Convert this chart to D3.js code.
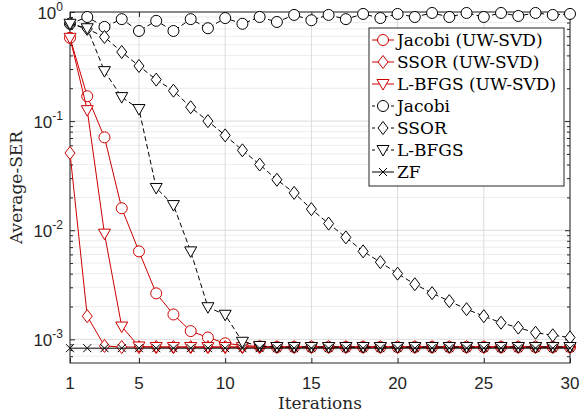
<!DOCTYPE html>
<html><head><meta charset="utf-8">
<script src="https://cdn.jsdelivr.net/npm/d3@7"></script>
<style>body{margin:0;background:#fff}svg{display:block}</style>
</head><body><svg id="c" width="580" height="418"></svg>
<script>
const iterations = [1,2,3,4,5,6,7,8,9,10,11,12,13,14,15,16,17,18,19,20,21,22,23,24,25,26,27,28,29,30];
const xTicks = [1,5,10,15,20,25,30];
const yTicks = [1,0.1,0.01,0.001];
const yTickExp = ["0","-1","-2","-3"];
const jacobiUW = [0.58,0.169,0.071,0.0159,0.0064,0.00264,0.00169,0.00119,0.00104,0.00092,0.00088,0.00086,0.00085,0.00085,0.00085,0.00085,0.00085,0.00085,0.00085,0.00085,0.00085,0.00085,0.00085,0.00085,0.00085,0.00085,0.00085,0.00085,0.00085,0.00085];
const ssorUW = [0.051,0.00163,0.00087,0.00085,0.00085,0.00085,0.00085,0.00085,0.00085,0.00085,0.00085,0.00085,0.00085,0.00085,0.00085,0.00085,0.00085,0.00085,0.00085,0.00085,0.00085,0.00085,0.00085,0.00085,0.00085,0.00085,0.00085,0.00085,0.00085,0.00085];
const lbfgsUW = [0.58,0.126,0.0093,0.00131,0.00086,0.00085,0.00085,0.00085,0.00085,0.00085,0.00085,0.00085,0.00085,0.00085,0.00085,0.00085,0.00085,0.00085,0.00085,0.00085,0.00085,0.00085,0.00085,0.00085,0.00085,0.00085,0.00085,0.00085,0.00085,0.00085];
const jacobi = [0.78,0.90,0.73,0.86,0.67,0.83,0.67,0.86,0.71,0.88,0.78,0.90,0.81,0.94,0.84,0.94,0.86,0.96,0.88,0.96,0.90,0.98,0.90,0.98,0.90,0.98,0.92,0.98,0.94,0.96];
const ssor = [0.78,0.70,0.59,0.43,0.32,0.24,0.19,0.134,0.10,0.074,0.054,0.040,0.029,0.022,0.0156,0.0115,0.0086,0.0064,0.0051,0.0040,0.0032,0.00265,0.00224,0.00189,0.00163,0.00142,0.00128,0.00115,0.00109,0.00104];
const lbfgs = [0.78,0.71,0.287,0.166,0.129,0.0244,0.017,0.0064,0.00197,0.00168,0.00095,0.00087,0.00085,0.00085,0.00085,0.00085,0.00085,0.00085,0.00085,0.00085,0.00085,0.00085,0.00085,0.00085,0.00085,0.00085,0.00085,0.00085,0.00085,0.00085];
const zf = [0.00083,0.00083,0.00083,0.00083,0.00083,0.00083,0.00083,0.00083,0.00083,0.00083,0.00083,0.00083,0.00083,0.00083,0.00083,0.00083,0.00083,0.00083,0.00083,0.00083,0.00083,0.00083,0.00083,0.00083,0.00083,0.00083,0.00083,0.00083,0.00083,0.00083];
const seriesNames = ["Jacobi (UW-SVD)","SSOR (UW-SVD)","L-BFGS (UW-SVD)","Jacobi","SSOR","L-BFGS","ZF"];
const seriesData = [jacobiUW, ssorUW, lbfgsUW, jacobi, ssor, lbfgs, zf];
const seriesMarker = ["circle","diamond","triangle","circle","diamond","triangle","cross"];
const seriesColor = ["#cc0000","#cc0000","#cc0000","#000","#000","#000","#000"];
const seriesDash = [null,null,null,"5,3","5,3","5,3",null];

const svg = d3.select("#c");
const L=70,R=570,T=12,B=363;
const x = d3.scaleLinear().domain([1,30]).range([L,R]);
const y = d3.scaleLog().domain([6.07e-4,1]).range([B,T]);
const axisCol="#262626";

// grid
const minor=[];
[0.0001,0.001,0.01,0.1].forEach(d=>{for(let k=2;k<=9;k++){const v=d*k; if(v>=6.07e-4&&v<1) minor.push(v);}});
const g=svg.append("g");
g.selectAll(".mg").data(minor).join("line").attr("x1",L).attr("x2",R)
 .attr("y1",d=>y(d)).attr("y2",d=>y(d)).attr("stroke","#ececec").attr("stroke-width",1);
g.selectAll(".gy").data(yTicks).join("line").attr("x1",L).attr("x2",R)
 .attr("y1",d=>y(d)).attr("y2",d=>y(d)).attr("stroke","#dcdcdc").attr("stroke-width",1);
g.selectAll(".gx").data(xTicks).join("line").attr("y1",T).attr("y2",B)
 .attr("x1",d=>x(d)).attr("x2",d=>x(d)).attr("stroke","#dcdcdc").attr("stroke-width",1);

// axes via d3 axis (ticks inward)
const ax = svg.append("g");
ax.append("g").attr("transform",`translate(0,${B})`).call(d3.axisBottom(x).tickValues(xTicks).tickSizeInner(-5).tickSizeOuter(0).tickFormat(""));
ax.append("g").attr("transform",`translate(0,${T})`).call(d3.axisTop(x).tickValues(xTicks).tickSizeInner(-5).tickSizeOuter(0).tickFormat(""));
ax.append("g").attr("transform",`translate(${L},0)`).call(d3.axisLeft(y).tickValues(yTicks).tickSizeInner(-5).tickSizeOuter(0).tickFormat(""));
ax.append("g").attr("transform",`translate(${R},0)`).call(d3.axisRight(y).tickValues(yTicks).tickSizeInner(-5).tickSizeOuter(0).tickFormat(""));
ax.append("g").attr("transform",`translate(${L},0)`).call(d3.axisLeft(y).tickValues(minor).tickSizeInner(-3).tickSizeOuter(0).tickFormat(""));
ax.append("g").attr("transform",`translate(${R},0)`).call(d3.axisRight(y).tickValues(minor).tickSizeInner(-3).tickSizeOuter(0).tickFormat(""));
ax.selectAll("path.domain").remove();
ax.selectAll("line").attr("stroke",axisCol);
svg.append("rect").attr("x",L).attr("y",T).attr("width",R-L).attr("height",B-T)
 .attr("fill","none").attr("stroke",axisCol).attr("stroke-width",1);

// tick labels
const tf="'Liberation Sans', Arial, sans-serif";
svg.selectAll(".xl").data(xTicks).join("text").attr("x",d=>x(d)).attr("y",389)
 .attr("text-anchor","middle").attr("font-family",tf).attr("font-size",17).attr("fill",axisCol).text(d=>d);
yTicks.forEach((v,i)=>{
  const t=svg.append("text").attr("x",63).attr("y",y(v)+7).attr("text-anchor","end")
   .attr("font-family",tf).attr("font-size",17).attr("fill",axisCol);
  t.append("tspan").text("10");
  t.append("tspan").attr("dy",-8).attr("font-size",12).text(yTickExp[i]);
});

// axis titles
const sf="'DejaVu Serif', serif";
svg.append("text").attr("x",(L+R)/2).attr("y",409).attr("text-anchor","middle")
 .attr("font-family",sf).attr("font-size",17).attr("fill",axisCol).text("Iterations");
svg.append("text").attr("transform",`translate(22,${(T+B)/2}) rotate(-90)`).attr("text-anchor","middle")
 .attr("font-family",sf).attr("font-size",17).attr("fill",axisCol).text("Average-SER");

// markers
function drawMarker(sel, type, color){
  if(type==="circle") sel.append("circle").attr("r",5.5).attr("fill","#fff").attr("stroke",color).attr("stroke-width",1);
  else if(type==="diamond") sel.append("path").attr("d","M0,-6.5L5,0L0,6.5L-5,0Z").attr("fill","#fff").attr("stroke",color).attr("stroke-width",1);
  else if(type==="triangle") sel.append("path").attr("d","M-6,-4.5L6,-4.5L0,6Z").attr("fill","#fff").attr("stroke",color).attr("stroke-width",1);
  else if(type==="cross") sel.append("path").attr("d","M-4,-4L4,4M-4,4L4,-4").attr("fill","none").attr("stroke",color).attr("stroke-width",1);
}
const plot=svg.append("g");
const line=d3.line().x((d,i)=>x(iterations[i])).y(d=>y(d));
seriesData.forEach((data,s)=>{
  plot.append("path").attr("d",line(data)).attr("fill","none").attr("stroke",seriesColor[s])
    .attr("stroke-width",1).attr("stroke-dasharray",seriesDash[s]);
  data.forEach((v,i)=>{
    const m=plot.append("g").attr("transform",`translate(${x(iterations[i])},${y(v)})`);
    drawMarker(m,seriesMarker[s],seriesColor[s]);
  });
});

// legend
const lg=svg.append("g");
lg.append("rect").attr("x",369).attr("y",28).attr("width",195).attr("height",158)
 .attr("fill","#fff").attr("stroke",axisCol).attr("stroke-width",1);
seriesNames.forEach((n,s)=>{
  const cy=40+s*22;
  lg.append("line").attr("x1",372).attr("x2",394).attr("y1",cy).attr("y2",cy)
   .attr("stroke",seriesColor[s]).attr("stroke-width",1).attr("stroke-dasharray",seriesDash[s]?"3,10,3":null);
  const m=lg.append("g").attr("transform",`translate(383,${cy})`);
  drawMarker(m,seriesMarker[s],seriesColor[s]);
  lg.append("text").attr("x",397).attr("y",cy+6).attr("font-family",sf).attr("font-size",17)
   .attr("fill","#000").text(n);
});
</script></body></html>
